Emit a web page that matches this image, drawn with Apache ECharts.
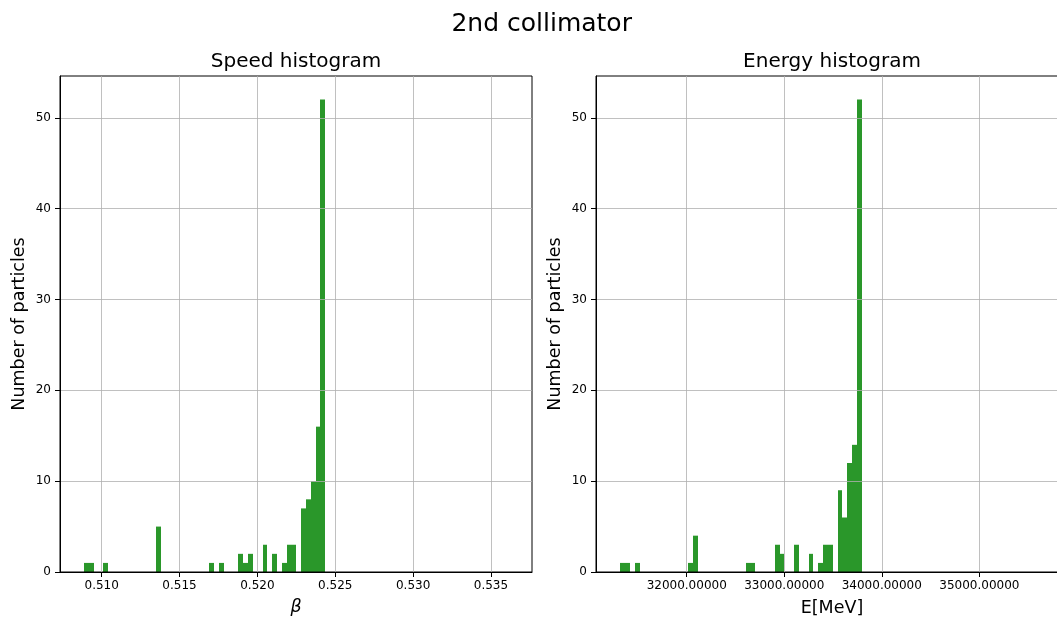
<!DOCTYPE html>
<html>
<head>
<meta charset="utf-8">
<script src="https://cdn.jsdelivr.net/npm/echarts@6/dist/echarts.min.js"></script>
<style>
  html, body { margin: 0; padding: 0; background: #ffffff; }
  #chart { width: 1057px; height: 619px; }
</style>
</head>
<body>
<div id="chart"></div>
<script>
// Histogram binning: 50 equal bins across each data range
const binCount = 50;

// Speed (beta) histogram
const speedRange = [0.508863, 0.524361];
const speedCounts = [
  1, 1, 0, 0, 1, 0, 0, 0, 0, 0,
  0, 0, 0, 0, 0, 5, 0, 0, 0, 0,
  0, 0, 0, 0, 0, 0, 1, 0, 1, 0,
  0, 0, 2, 1, 2, 0, 0, 3, 0, 2,
  0, 1, 3, 3, 0, 7, 8, 10, 16, 52
];
const speedTicks = [0.510, 0.515, 0.520, 0.525, 0.530, 0.535];
const speedLimits = [0.507322, 0.537636];

// Energy histogram
const energyRange = [31319, 33794];
const energyCounts = [
  1, 1, 0, 1, 0, 0, 0, 0, 0, 0,
  0, 0, 0, 0, 1, 4, 0, 0, 0, 0,
  0, 0, 0, 0, 0, 0, 1, 1, 0, 0,
  0, 0, 3, 2, 0, 0, 3, 0, 0, 2,
  0, 1, 3, 3, 0, 9, 6, 12, 14, 52
];
const energyTicks = [32000, 33000, 34000, 35000];
const energyLimits = [31070, 35909];

// Shared count axis
const countTicks = [0, 10, 20, 30, 40, 50];
const countMax = 54.6;

const FONT = 'DejaVu Sans';
const BAR_COLOR = '#2a972a';
const GRID_COLOR = '#b0b0b0';

// [binStart, binEnd, count] for every non-empty bin
function toBins(range, counts) {
  const w = (range[1] - range[0]) / binCount;
  const out = [];
  counts.forEach((c, i) => {
    if (c > 0) out.push([range[0] + i * w, range[0] + (i + 1) * w, c]);
  });
  return out;
}

// Each bin is a rectangle from the baseline up to its count; the horizontal
// edges are snapped to whole pixels so neighbouring bins join without seams.
function renderBin(params, api) {
  const base = api.coord([api.value(0), 0]);
  const top = api.coord([api.value(1), api.value(2)]);
  const x0 = Math.round(base[0]);
  const x1 = Math.round(top[0]);
  return {
    type: 'rect',
    shape: { x: x0, y: top[1], width: x1 - x0, height: base[1] - top[1] },
    style: { fill: BAR_COLOR }
  };
}

function valueAxis(gridIndex, limits, ticks, fmt) {
  return {
    type: 'value',
    gridIndex,
    min: limits[0],
    max: limits[1],
    axisLine: { show: true, onZero: false, lineStyle: { color: '#000', width: 1 } },
    axisTick: { show: true, inside: false, length: 5, customValues: ticks, lineStyle: { color: '#000', width: 1 } },
    axisLabel: { customValues: ticks, formatter: fmt, fontFamily: FONT, fontSize: 12, color: '#000', margin: 8 },
    splitLine: { show: true, lineStyle: { color: GRID_COLOR, width: 0.8 } }
  };
}

function countAxis(gridIndex) {
  return {
    type: 'value',
    gridIndex,
    min: 0,
    max: countMax,
    axisLine: { show: true, lineStyle: { color: '#000', width: 1 } },
    axisTick: { show: true, inside: false, length: 5, customValues: countTicks, lineStyle: { color: '#000', width: 1 } },
    axisLabel: { customValues: countTicks, formatter: v => String(v), fontFamily: FONT, fontSize: 12, color: '#000', margin: 9 },
    splitLine: { show: true, lineStyle: { color: GRID_COLOR, width: 0.8 } }
  };
}

function label(text, x, y, size, extra, styleExtra) {
  return Object.assign({
    type: 'text',
    x, y,
    silent: true,
    style: Object.assign({ text, fontFamily: FONT, fontSize: size, fill: '#000', align: 'center', verticalAlign: 'middle' }, styleExtra || {})
  }, extra || {});
}

const chart = echarts.init(document.getElementById('chart'), null, { renderer: 'canvas' });

const gridBase = { top: 76, width: 472, height: 496, show: true, borderColor: '#000', borderWidth: 1,
                   backgroundColor: 'transparent', outerBoundsMode: 'none', containLabel: false };

chart.setOption({
  animation: false,
  backgroundColor: '#ffffff',
  grid: [
    Object.assign({ left: 60 }, gridBase),
    Object.assign({ left: 596 }, gridBase)
  ],
  xAxis: [
    valueAxis(0, speedLimits, speedTicks, v => v.toFixed(3)),
    valueAxis(1, energyLimits, energyTicks, v => v.toFixed(5))
  ],
  yAxis: [countAxis(0), countAxis(1)],
  series: [
    {
      name: 'Speed histogram', type: 'custom', xAxisIndex: 0, yAxisIndex: 0, z: -1,
      renderItem: renderBin, encode: { x: [0, 1], y: 2 }, data: toBins(speedRange, speedCounts)
    },
    {
      name: 'Energy histogram', type: 'custom', xAxisIndex: 1, yAxisIndex: 1, z: -1,
      renderItem: renderBin, encode: { x: [0, 1], y: 2 }, data: toBins(energyRange, energyCounts)
    }
  ],
  graphic: [
    label('2nd collimator', 541.7, 24.5, 25),
    label('Speed histogram', 296, 62, 20),
    label('Energy histogram', 832, 62, 20),
    label('Number of particles', 19, 324, 17.5, { rotation: Math.PI / 2 }),
    label('Number of particles', 555, 324, 17.5, { rotation: Math.PI / 2 }),
    label('β', 296, 607, 17.5, null, { fontStyle: 'italic' }),
    label('E[MeV]', 832, 608, 17.5)
  ]
});
</script>
</body>
</html>
